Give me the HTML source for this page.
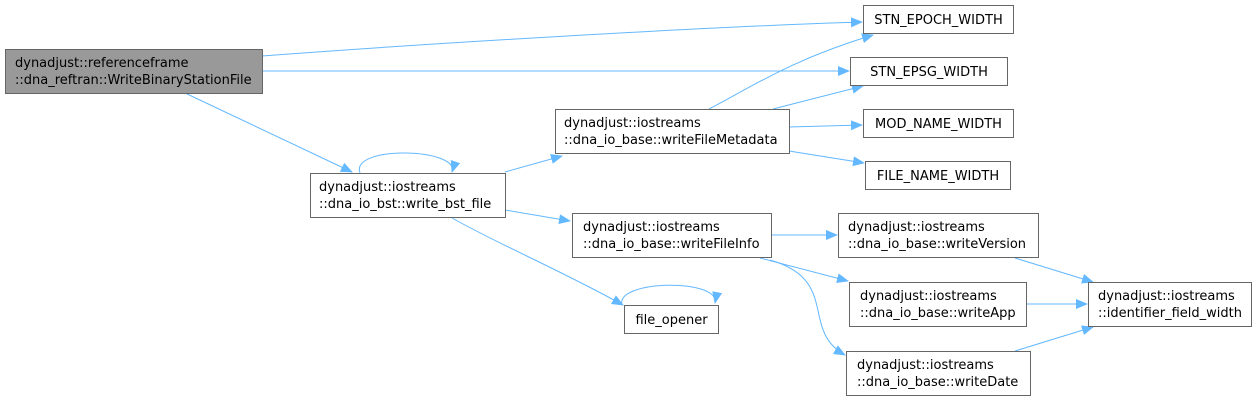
<!DOCTYPE html>
<html><head><meta charset="utf-8"><style>
html,body{margin:0;padding:0;background:#fff;}
svg{display:block}
text{font-family:"DejaVu Sans","Liberation Sans",sans-serif;font-size:13px;fill:#000}
.n{fill:#fff;stroke:#666;stroke-width:1}
.e{fill:none;stroke:#63b8ff;stroke-width:1}
</style></head><body>
<svg width="1258" height="402" viewBox="0 0 1258 402" xmlns="http://www.w3.org/2000/svg">
<defs><marker id="m" markerWidth="12" markerHeight="10" refX="11" refY="5" orient="auto" markerUnits="userSpaceOnUse"><path d="M0,0 L12,5 L0,10 Z" fill="#63b8ff"/></marker></defs>
<path class="e" marker-end="url(#m)" d="M262,56 C420,44 700,27 862,22"/>
<path class="e" marker-end="url(#m)" d="M262,71 L849,71"/>
<path class="e" marker-end="url(#m)" d="M185,93 L352,172"/>
<path class="e" marker-end="url(#m)" d="M360,173 C350,145 460,148 452,172"/>
<path class="e" marker-end="url(#m)" d="M505,172 L562,156"/>
<path class="e" marker-end="url(#m)" d="M505,210 L570,221"/>
<path class="e" marker-end="url(#m)" d="M452,218 C500,245 560,270 623,305"/>
<path class="e" marker-end="url(#m)" d="M622,305 C615,280 720,278 715,303"/>
<path class="e" marker-end="url(#m)" d="M709,109 C750,88 790,60 873,35"/>
<path class="e" marker-end="url(#m)" d="M773,109 L863,86"/>
<path class="e" marker-end="url(#m)" d="M789,127 L862,125"/>
<path class="e" marker-end="url(#m)" d="M789,151 L864,163"/>
<path class="e" marker-end="url(#m)" d="M771,235 L837,235"/>
<path class="e" marker-end="url(#m)" d="M760,258 L848,281"/>
<path class="e" marker-end="url(#m)" d="M770,260 C840,280 800,330 845,355"/>
<path class="e" marker-end="url(#m)" d="M1015,258 L1093,282"/>
<path class="e" marker-end="url(#m)" d="M1026,304 L1087,304"/>
<path class="e" marker-end="url(#m)" d="M1015,351 L1093,327"/>

<rect x="5.5" y="49.5" width="257" height="44" fill="#999" stroke="#666"/>
<text x="15" y="67">dynadjust::referenceframe</text>
<text x="15" y="84">::dna_reftran::WriteBinaryStationFile</text>

<rect class="n" x="863.5" y="5.5" width="150" height="28"/>
<text x="938.5" y="24" text-anchor="middle">STN_EPOCH_WIDTH</text>
<rect class="n" x="850.5" y="57.5" width="157" height="28"/>
<text x="929" y="76" text-anchor="middle">STN_EPSG_WIDTH</text>
<rect class="n" x="863.5" y="109.5" width="150" height="28"/>
<text x="938.5" y="128" text-anchor="middle">MOD_NAME_WIDTH</text>
<rect class="n" x="865.5" y="161.5" width="145" height="28"/>
<text x="938" y="180" text-anchor="middle">FILE_NAME_WIDTH</text>

<rect class="n" x="310.5" y="173.5" width="195" height="44"/>
<text x="319" y="191">dynadjust::iostreams</text>
<text x="319" y="208">::dna_io_bst::write_bst_file</text>

<rect class="n" x="555.5" y="109.5" width="234" height="44"/>
<text x="564" y="127">dynadjust::iostreams</text>
<text x="564" y="144">::dna_io_base::writeFileMetadata</text>

<rect class="n" x="572.5" y="213.5" width="199" height="44"/>
<text x="583" y="231">dynadjust::iostreams</text>
<text x="583" y="248">::dna_io_base::writeFileInfo</text>

<rect class="n" x="624.5" y="305.5" width="94" height="28"/>
<text x="671.5" y="324" text-anchor="middle">file_opener</text>

<rect class="n" x="838.5" y="213.5" width="200" height="44"/>
<text x="848" y="231">dynadjust::iostreams</text>
<text x="848" y="248">::dna_io_base::writeVersion</text>

<rect class="n" x="849.5" y="282.5" width="177" height="44"/>
<text x="860" y="300">dynadjust::iostreams</text>
<text x="860" y="317">::dna_io_base::writeApp</text>

<rect class="n" x="846.5" y="351.5" width="184" height="44"/>
<text x="857" y="369">dynadjust::iostreams</text>
<text x="857" y="386">::dna_io_base::writeDate</text>

<rect class="n" x="1088.5" y="282.5" width="163" height="44"/>
<text x="1098" y="300">dynadjust::iostreams</text>
<text x="1098" y="317">::identifier_field_width</text>
</svg>
</body></html>
